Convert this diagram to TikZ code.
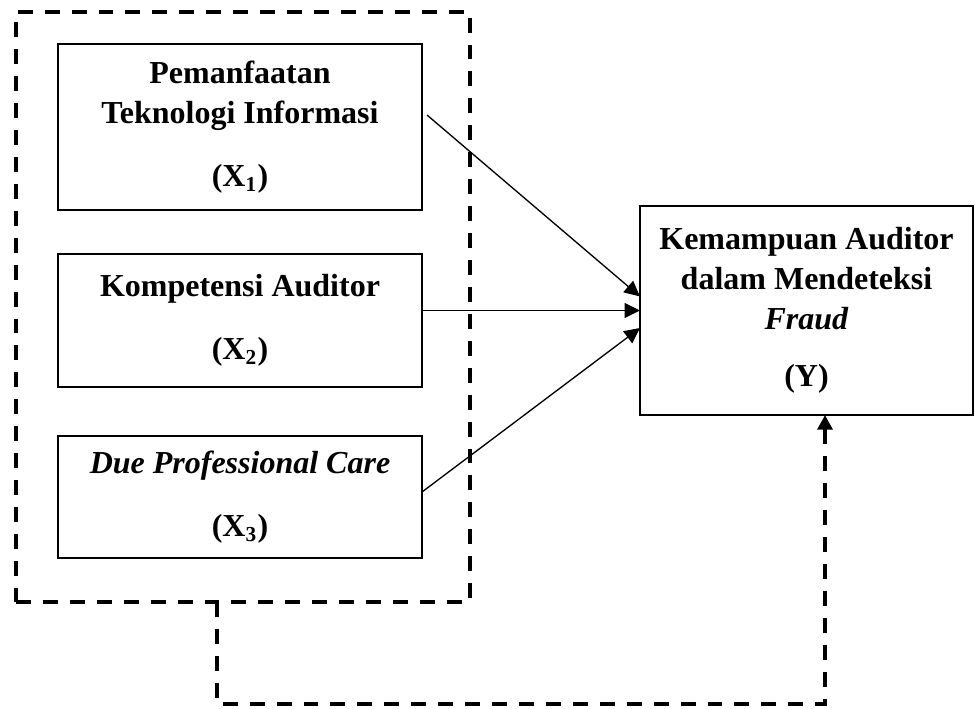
\documentclass[tikz,border=0pt]{standalone}
\usepackage{fontspec}
\setmainfont{Liberation Serif}
\usetikzlibrary{arrows.meta,calc}
\begin{document}
\begin{tikzpicture}[x=0.375pt,y=-0.375pt,
  every node/.style={font=\fontsize{12}{15}\selectfont\bfseries, align=center, inner sep=0pt, outer sep=0pt},
  varbox/.style={draw, line width=0.95pt, minimum width=136.5pt},
  grpbox/.style={draw, line width=1.6pt, dash pattern=on 5.6pt off 4.5pt},
  conn/.style={line width=0.5pt, -{Triangle[length=5.8pt,width=5.6pt]}},
  dconn/.style={line width=1.6pt, dash pattern=on 5.6pt off 4.5pt, -{Triangle[length=5.5pt,width=5.6pt]}}]
\useasboundingbox (0,0) rectangle (975,708);
\node[grpbox, minimum width=170.25pt, minimum height=221.25pt] (grp) at (243,307) {};
\node[varbox, minimum height=62.25pt] (x1) at (240,127) {Pemanfaatan\\Teknologi Informasi\\[8.6pt](X\textsubscript{1})};
\node[varbox, minimum height=49.9pt] (x2) at (240,320.5) {Kompetensi Auditor\\[8.6pt](X\textsubscript{2})};
\node[varbox, minimum height=45.75pt] (x3) at (240,497) {\textit{Due Professional Care}\\[8.6pt](X\textsubscript{3})};
\node[varbox, minimum width=124.9pt, minimum height=78.4pt] (y) at (806.5,310.5) {Kemampuan Auditor\\dalam Mendeteksi\\\textit{Fraud}\\[6.4pt](Y)};
\draw[conn] ($(x1.east)+(5,-12)$) -- ($(y.west)+(0,-14)$);
\draw[conn] (x2.east |- y.west) -- (y.west);
\draw[conn] ($(x3.east)+(0,-5)$) -- ($(y.west)+(0,17.5)$);
\coordinate (c1) at ($(grp.south)+(-26,102)$);
\coordinate (c2) at ($(y.south)+(18.5,0)$);
\draw[dconn] ($(grp.south)+(-26,0)$) -- (c1) -- (c1 -| c2) -- (c2);
\end{tikzpicture}
\end{document}
